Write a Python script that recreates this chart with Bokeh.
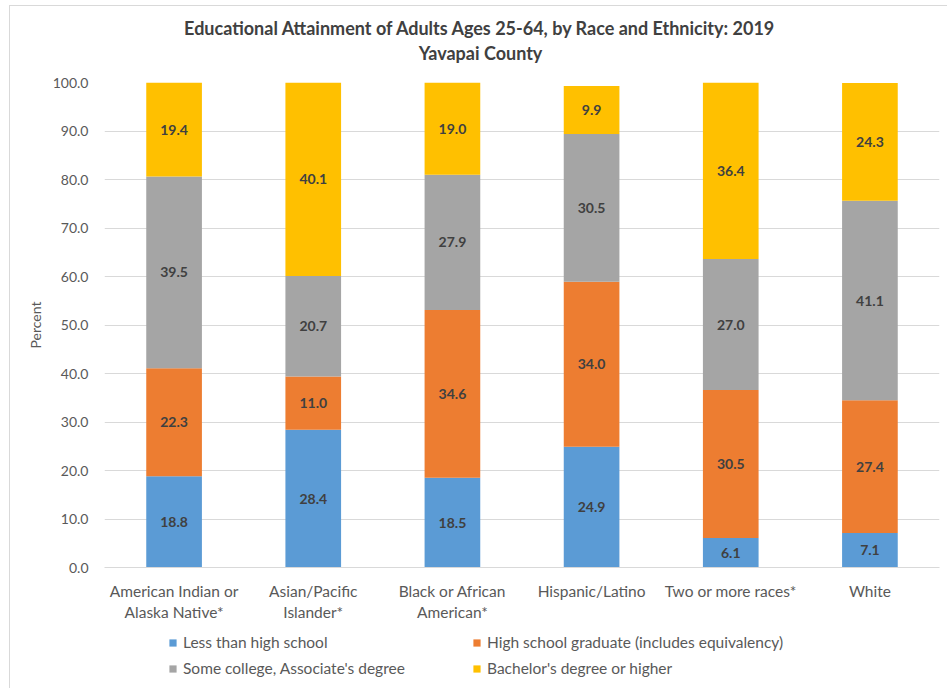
from bokeh.plotting import figure
from bokeh.layouts import column
from bokeh.models import (ColumnDataSource, FactorRange, Range1d, FixedTicker,
                          PrintfTickFormatter, Legend, LegendItem, Label, LabelSet)
from bokeh.core.properties import value
from bokeh.embed import file_html
from bokeh.resources import INLINE
import numpy as np

# Race / ethnicity groups (x categories)
groups = ["American Indian or\nAlaska Native*", "Asian/Pacific\nIslander*",
          "Black or African\nAmerican*", "Hispanic/Latino",
          "Two or more races*", "White"]

# Percent of adults 25-64 by highest attainment
less_than_hs = [18.8, 28.4, 18.5, 24.9, 6.1, 7.1]
hs_graduate = [22.3, 11.0, 34.6, 34.0, 30.5, 27.4]
some_college = [39.5, 20.7, 27.9, 30.5, 27.0, 41.1]
bachelors = [19.4, 40.1, 19.0, 9.9, 36.4, 24.3]

series_names = ["Less than high school",
                "High school graduate (includes equivalency)",
                "Some college, Associate's degree",
                "Bachelor's degree or higher"]
series_values = [less_than_hs, hs_graduate, some_college, bachelors]
series_colors = ["#5B9BD5", "#ED7D31", "#A5A5A5", "#FFC000"]

y_ticks = [0, 10, 20, 30, 40, 50, 60, 70, 80, 90, 100]

title_lines = ["Educational Attainment of Adults Ages 25-64, by Race and Ethnicity: 2019",
               "Yavapai County"]

FONT = "Lato"
TEXT_DARK = "#404040"
TEXT_GRAY = "#595959"
BORDER = "#D9D9D9"
W = 937  # inner width, inside the chart border


def strip_figure(height, x_range, y_range):
    f = figure(width=W, height=height, output_backend="svg", toolbar_location=None,
               x_range=x_range, y_range=y_range,
               x_axis_type=None, y_axis_type=None,
               min_border_left=0, min_border_right=0,
               min_border_top=0, min_border_bottom=0)
    f.outline_line_color = None
    f.grid.visible = False
    return f


# ---- stacked bar chart ----
p = figure(width=W, height=561, output_backend="svg", toolbar_location=None,
           x_range=FactorRange(*groups, range_padding=0),
           y_range=Range1d(0, 100),
           min_border_left=94, min_border_right=8,
           min_border_top=18, min_border_bottom=58)
p.outline_line_color = None

sources = []
bottoms = np.zeros(len(groups))
for name, vals, color in zip(series_names, series_values, series_colors):
    vals = np.array(vals, dtype=float)
    src = ColumnDataSource(dict(
        x=groups, bottom=bottoms.copy(), top=bottoms + vals,
        mid=bottoms + vals / 2, label=["%.1f" % v for v in vals]))
    sources.append(src)
    p.vbar(x="x", bottom="bottom", top="top", width=0.40, source=src,
           fill_color=color, line_color=None)
    p.add_layout(LabelSet(x="x", y="mid", text="label", source=src,
                          text_align="center", text_baseline="middle",
                          text_font=value(FONT), text_font_size="14px",
                          text_font_style="bold", text_color=TEXT_DARK))
    bottoms = bottoms + vals

p.xgrid.grid_line_color = None
p.ygrid.grid_line_color = BORDER
p.ygrid.grid_line_width = 1

p.yaxis.ticker = FixedTicker(ticks=y_ticks)
p.yaxis.formatter = PrintfTickFormatter(format="%.1f")
p.yaxis.axis_line_color = None
p.yaxis.major_tick_line_color = None
p.yaxis.minor_tick_line_color = None
p.yaxis.major_tick_out = 0
p.yaxis.major_label_standoff = 16
p.yaxis.major_label_text_font = FONT
p.yaxis.major_label_text_font_size = "14px"
p.yaxis.major_label_text_color = TEXT_GRAY
p.yaxis.axis_label = "Percent"
p.yaxis.axis_label_text_font = FONT
p.yaxis.axis_label_text_font_size = "14px"
p.yaxis.axis_label_text_font_style = "normal"
p.yaxis.axis_label_text_color = TEXT_GRAY
p.yaxis.axis_label_standoff = 6

p.xaxis.axis_line_color = BORDER
p.xaxis.major_tick_line_color = None
p.xaxis.minor_tick_line_color = None
p.xaxis.major_tick_out = 0
p.xaxis.major_label_standoff = 14
p.xaxis.major_label_text_font = FONT
p.xaxis.major_label_text_font_size = "15.5px"
p.xaxis.major_label_text_color = TEXT_GRAY
p.xaxis.major_label_text_line_height = 1.2

# ---- title strip (frame is aligned with the chart frame) ----
head = strip_figure(58, Range1d(0, 1), Range1d(0, 1))
for txt, y in zip(title_lines, [37, 12]):
    head.add_layout(Label(x=376, y=y, x_units="screen", y_units="screen", text=txt,
                          text_align="center", text_baseline="middle",
                          text_font=FONT, text_font_size="18px",
                          text_font_style="bold", text_color=TEXT_DARK))

# ---- legend strip: hidden copies of the series supply the swatches ----
foot = strip_figure(63, p.x_range, p.y_range)
swatches = [foot.vbar(x="x", bottom="bottom", top="top", width=0.40, source=src,
                      fill_color=c, line_color=None, visible=False)
            for src, c in zip(sources, series_colors)]
legend = Legend(items=[LegendItem(label=n, renderers=[r])
                       for n, r in zip(series_names, swatches)],
                orientation="horizontal", ncols=2,
                location=(64, 10), border_line_color=None,
                background_fill_alpha=0,
                glyph_width=9, glyph_height=9, label_standoff=6,
                label_width=283, label_height=20, spacing=6,
                label_text_font=FONT, label_text_font_size="15.5px",
                label_text_color=TEXT_GRAY, padding=4, margin=0)
foot.add_layout(legend, "center")

page = column(head, p, foot, spacing=0, margin=(5, 0, 0, 9),
              styles={"border-left": f"1px solid {BORDER}",
                      "border-top": f"1px solid {BORDER}"})
open("out.html", "w").write(file_html(page, INLINE))
